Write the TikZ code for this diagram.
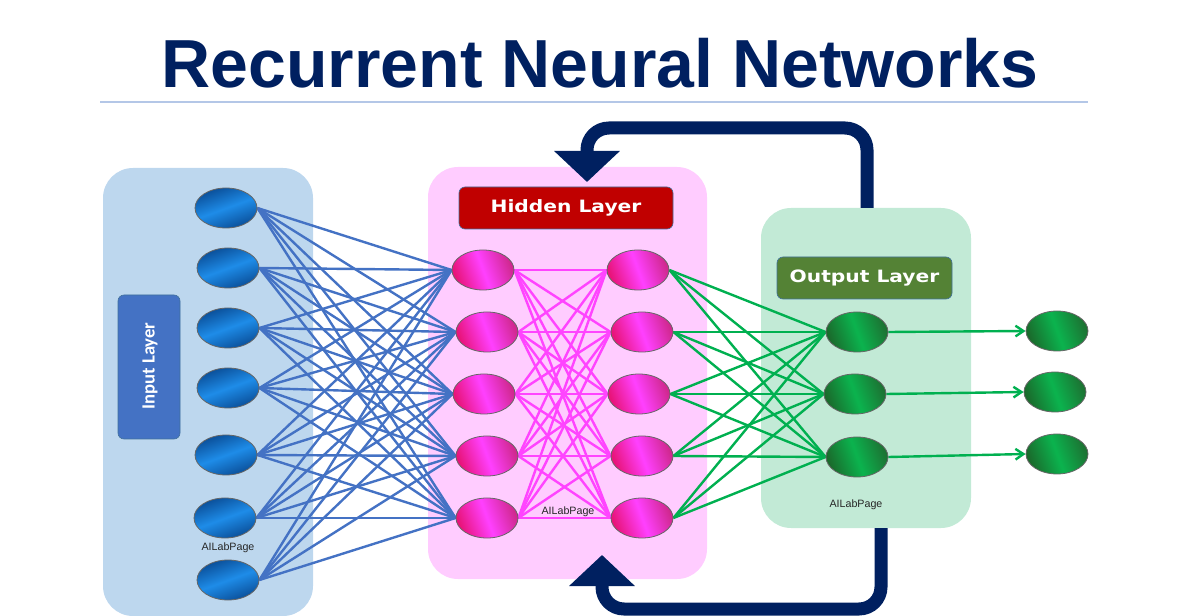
\documentclass[tikz,border=0pt]{standalone}
\usepackage{fontspec}
\setmainfont{Liberation Sans}
\newfontfamily\labfont[FakeStretch=1.19]{DejaVu Sans}
\newfontfamily\inpfont{Carlito}
\usetikzlibrary{shapes.geometric,arrows.meta}
\pgfdeclarelayer{bg}\pgfdeclarelayer{wires}
\pgfsetlayers{bg,wires,main}
\definecolor{navy}{HTML}{002060}
\definecolor{rulec}{HTML}{B4C7E7}
\definecolor{inpanelc}{HTML}{BDD7EE}
\definecolor{hidpanelc}{HTML}{FFCCFF}
\definecolor{outpanelc}{HTML}{C2EAD6}
\definecolor{inlabc}{HTML}{4472C4}
\definecolor{hidlabc}{HTML}{C00000}
\definecolor{outlabc}{HTML}{548235}
\definecolor{labedge}{HTML}{41719C}
\definecolor{bluew}{HTML}{4472C4}
\definecolor{magw}{HTML}{FF44FF}
\definecolor{greenw}{HTML}{00B050}
\definecolor{bdark}{HTML}{0A4E98}
\definecolor{blight}{HTML}{1E8CE8}
\definecolor{pdark}{HTML}{E8147A}
\definecolor{plight}{HTML}{FF40FF}
\definecolor{pright}{HTML}{D0288F}
\definecolor{gdark}{HTML}{1A6B2C}
\definecolor{glight}{HTML}{0BB34E}
\definecolor{gright}{HTML}{1C7333}
\begin{document}
\begin{tikzpicture}[x=0.75pt,y=-0.75pt,
  panel/.style={rounded corners=22.5pt,inner sep=0pt,draw=none},
  labbox/.style={rounded corners=4.5pt,inner sep=0pt,draw=labedge,line width=0.5pt,text=white},
  neuron/.style={ellipse,minimum width=46.5pt,minimum height=30pt,inner sep=0pt,draw=black!60,line width=0.6pt},
  bluen/.style={neuron,top color=bdark,bottom color=bdark,middle color=blight,shading angle=20},
  pinkn/.style={neuron,left color=pdark,right color=pright,middle color=plight,shading angle=110},
  greenn/.style={neuron,left color=gdark,right color=gright,middle color=glight,shading angle=110},
  wire/.style={line width=1.8pt},
  loopline/.style={draw=navy,line width=9.75pt,rounded corners=16.5pt,-{Triangle[width=48pt,length=23.25pt]}},
  wm/.style={font=\fontsize{8pt}{9pt}\selectfont,text=black!85,inner sep=0pt}
]
\useasboundingbox (0,0) rectangle (1200,616);
% title
\node[anchor=base,text=navy,inner sep=0pt,font=\fontsize{51pt}{60pt}\selectfont\bfseries] (title) at (600,88) {Recurrent Neural Networks};
\coordinate (rl) at (100,102);
\coordinate (rr) at (1088,102);
\draw[rulec,line width=0.9pt] (rl) -- (rr);
% panels
\begin{pgfonlayer}{bg}
\node[panel,fill=inpanelc,minimum width=157.5pt,minimum height=336pt] (inpanel) at (208,392) {};
\node[panel,fill=hidpanelc,minimum width=209.25pt,minimum height=309pt] (hidpanel) at (567.5,373) {};
\node[panel,fill=outpanelc,minimum width=157.5pt,minimum height=240pt] (outpanel) at (866,368) {};
\end{pgfonlayer}
% labels
\node[labbox,fill=inlabc,minimum width=46.5pt,minimum height=108pt] (inlab) at (149,367) {};
\node[text=white,rotate=90,inner sep=0pt,font=\inpfont\bfseries\fontsize{14pt}{16pt}\selectfont] (intxt) at (150,366) {Input Layer};
\node[labbox,fill=hidlabc,minimum width=160.5pt,minimum height=31.5pt,font=\labfont\bfseries\fontsize{12.75pt}{14pt}\selectfont] (hidlab) at (566,208) {\raisebox{-1.5pt}{Hidden Layer}};
\node[labbox,fill=outlabc,minimum width=131.25pt,minimum height=31.5pt,font=\labfont\bfseries\fontsize{12.75pt}{14pt}\selectfont] (outlab) at (864.5,278) {\raisebox{-1.5pt}{Output Layer}};
% neurons
\node[bluen] (i1) at (226,208) {};
\node[bluen] (i2) at (228,268) {};
\node[bluen] (i3) at (228,328) {};
\node[bluen] (i4) at (228,388) {};
\node[bluen] (i5) at (226,455) {};
\node[bluen] (i6) at (225,518) {};
\node[bluen] (i7) at (228,580) {};
\node[pinkn] (h1) at (483,270) {};
\node[pinkn] (h2) at (487,332) {};
\node[pinkn] (h3) at (484,394) {};
\node[pinkn] (h4) at (487,456) {};
\node[pinkn] (h5) at (487,518) {};
\node[pinkn] (k1) at (638,270) {};
\node[pinkn] (k2) at (642,332) {};
\node[pinkn] (k3) at (639,394) {};
\node[pinkn] (k4) at (642,456) {};
\node[pinkn] (k5) at (642,518) {};
\node[greenn] (o1) at (857,332) {};
\node[greenn] (o2) at (855,394) {};
\node[greenn] (o3) at (857,457) {};
\node[greenn] (f1) at (1057,331) {};
\node[greenn] (f2) at (1055,392) {};
\node[greenn] (f3) at (1057,454) {};
% watermarks
\node[wm] (w1) at (228,548) {AILabPage};
\node[wm] (w2) at (568,512) {AILabPage};
\node[wm] (w3) at (856,505) {AILabPage};
% wires
\begin{pgfonlayer}{wires}
\foreach \a in {1,...,7}{\foreach \b in {1,...,5}{\draw[wire,bluew] (i\a.east) -- (h\b.west);}}
\foreach \a in {1,...,5}{\foreach \b in {1,...,5}{\draw[wire,magw] (h\a.east) -- (k\b.west);}}
\foreach \a in {1,...,5}{\foreach \b in {1,...,3}{\draw[wire,greenw] (k\a.east) -- (o\b.west);}}
\foreach \a in {1,2,3}{\draw[wire,greenw,-{Straight Barb[length=6pt,width=8pt]}] (o\a.east) -- (f\a.west);}
% recurrent loops
\coordinate (t0) at (867,208);
\coordinate (t1) at (867,128);
\coordinate (t2) at (587,128);
\coordinate (t3) at (587,182);
\draw[loopline] (t0) -- (t1) -- (t2) -- (t3);
\coordinate (b0) at (881,528);
\coordinate (b1) at (881,609);
\coordinate (b2) at (602,609);
\coordinate (b3) at (602,555);
\draw[loopline] (b0) -- (b1) -- (b2) -- (b3);
\end{pgfonlayer}
\end{tikzpicture}
\end{document}
